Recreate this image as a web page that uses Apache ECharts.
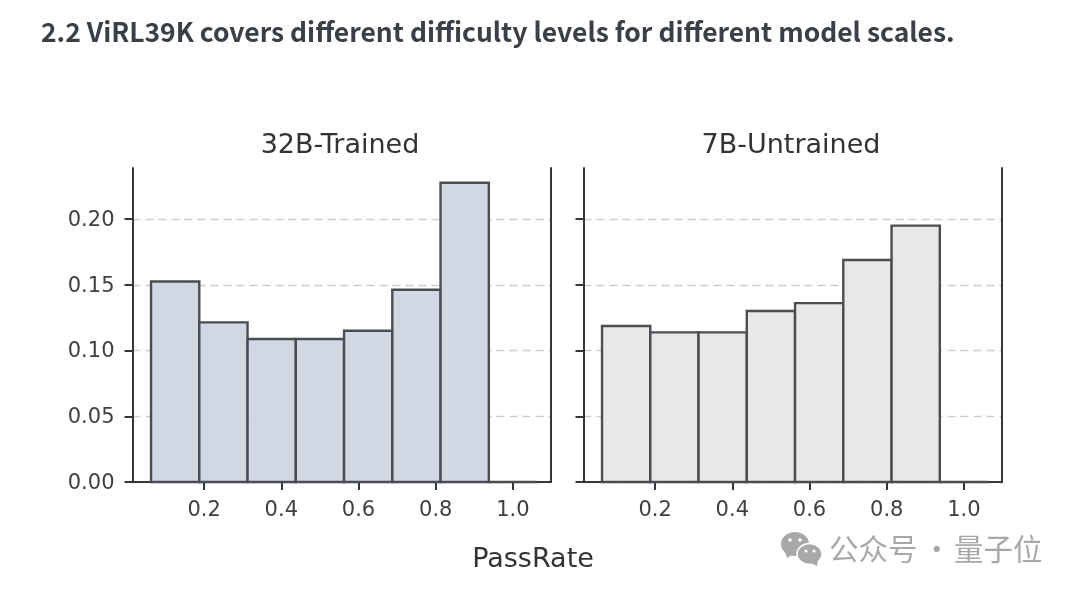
<!DOCTYPE html>
<html>
<head>
<meta charset="utf-8">
<title>ViRL39K</title>
<style>
  html, body { margin: 0; padding: 0; background: #fff; }
  #chart { width: 1080px; height: 593px; }
</style>
<script src="https://cdn.jsdelivr.net/npm/echarts@6/dist/echarts.min.js"></script>
</head>
<body>
<div id="chart"></div>
<script>
const heading = '2.2 ViRL39K covers different difficulty levels for different model scales.';
const panelTitles = ['32B-Trained', '7B-Untrained'];
const xName = 'PassRate';
const watermarkParts = ['公众号', '·', '量子位'];

// histogram bin edges, one more than the values
const binEdges = [0.0625, 0.1875, 0.3125, 0.4375, 0.5625, 0.6875, 0.8125, 0.9375, 1.0625];
const trained32B = [0.1525, 0.1214, 0.1087, 0.1087, 0.115, 0.1462, 0.2276, 0];
const untrained7B = [0.1186, 0.1138, 0.1138, 0.130, 0.136, 0.1688, 0.195, 0];

const xTicks = [0.2, 0.4, 0.6, 0.8, 1.0];
const yTicks = [0, 0.05, 0.10, 0.15, 0.20];

const ink = '#33373a';
const labelColor = '#404040';
const logoGray = '#a8a8a8';
const font = '"DejaVu Sans"';

function binRows(values) {
  return values.map((v, i) => [binEdges[i], binEdges[i + 1], v]);
}

function renderBin(fill) {
  return function (params, api) {
    const bottomLeft = api.coord([api.value(0), 0]);
    const topRight = api.coord([api.value(1), api.value(2)]);
    return {
      type: 'rect',
      shape: {
        x: bottomLeft[0],
        y: topRight[1],
        width: topRight[0] - bottomLeft[0],
        height: bottomLeft[1] - topRight[1]
      },
      style: { fill: fill, stroke: '#4a4e52', lineWidth: 2.4 }
    };
  };
}

function xAxisFor(gridIndex) {
  return {
    type: 'value',
    gridIndex: gridIndex,
    min: 0.0145,
    max: 1.0986,
    axisLine: { show: true, onZero: false, lineStyle: { color: ink, width: 2 } },
    axisTick: { show: true, length: 8, customValues: xTicks, lineStyle: { color: ink, width: 2 } },
    axisLabel: {
      customValues: xTicks,
      formatter: v => v.toFixed(1),
      color: labelColor,
      fontFamily: font,
      fontSize: 21,
      margin: 18
    },
    splitLine: { show: false }
  };
}

function yAxisLeft(gridIndex, withLabels) {
  return {
    type: 'value',
    gridIndex: gridIndex,
    position: 'left',
    min: 0,
    max: 0.2388,
    axisLine: { show: true, onZero: false, lineStyle: { color: ink, width: 2 } },
    axisTick: { show: true, length: 8, customValues: yTicks, lineStyle: { color: ink, width: 2 } },
    axisLabel: {
      show: withLabels,
      customValues: yTicks,
      formatter: v => v.toFixed(2),
      color: labelColor,
      fontFamily: font,
      fontSize: 21,
      margin: 18,
      // nudges the labels down a little from the tick, like the reference
      verticalAlign: 'top',
      lineHeight: 3
    },
    splitLine: { show: true, lineStyle: { color: '#cdcdcd', type: [8, 5], width: 1.3 } }
  };
}

function yAxisRight(gridIndex) {
  return {
    type: 'value',
    gridIndex: gridIndex,
    position: 'right',
    min: 0,
    max: 0.2388,
    axisLine: { show: true, onZero: false, lineStyle: { color: ink, width: 2 } },
    axisTick: { show: false },
    axisLabel: { show: false },
    splitLine: { show: false }
  };
}

function panelTitle(text, x) {
  return {
    text: text,
    left: x,
    top: 127,
    textAlign: 'center',
    textStyle: { color: '#333', fontFamily: font, fontSize: 27, fontWeight: 'normal' }
  };
}

function watermarkTitle(text, x) {
  return {
    text: text,
    left: x,
    top: 529,
    textStyle: { color: logoGray, fontFamily: '"Noto Sans CJK SC"', fontSize: 29.5, fontWeight: 'normal' }
  };
}

const chart = echarts.init(document.getElementById('chart'));
chart.setOption({
  animation: false,
  backgroundColor: '#fff',
  title: [
    {
      text: heading,
      left: 36,
      top: 14,
      textStyle: { color: '#3b4046', fontFamily: '"Noto Sans CJK SC"', fontSize: 26.45, fontWeight: 'bold' }
    },
    panelTitle(panelTitles[0], 335),
    panelTitle(panelTitles[1], 786),
    {
      text: xName,
      left: 528,
      top: 541,
      textAlign: 'center',
      textStyle: { color: '#333', fontFamily: font, fontSize: 27, fontWeight: 'normal' }
    },
    watermarkTitle(watermarkParts[0], 824),
    watermarkTitle(watermarkParts[1], 917),
    watermarkTitle(watermarkParts[2], 949)
  ],
  grid: [
    { left: 132.5, top: 168, width: 418.5, height: 314 },
    { left: 583.5, top: 168, width: 418.5, height: 314 }
  ],
  xAxis: [xAxisFor(0), xAxisFor(1)],
  yAxis: [yAxisLeft(0, true), yAxisRight(0), yAxisLeft(1, false), yAxisRight(1)],
  series: [
    {
      type: 'custom',
      xAxisIndex: 0,
      yAxisIndex: 0,
      data: binRows(trained32B),
      encode: { x: [0, 1], y: 2 },
      renderItem: renderBin('rgba(205,213,226,0.93)')
    },
    {
      type: 'custom',
      xAxisIndex: 1,
      yAxisIndex: 2,
      data: binRows(untrained7B),
      encode: { x: [0, 1], y: 2 },
      renderItem: renderBin('rgba(230,230,230,0.93)')
    }
  ],
  graphic: [
    // WeChat logo of the watermark
    { type: 'ellipse', shape: { cx: 795, cy: 544, rx: 14, ry: 12 }, style: { fill: logoGray } },
    { type: 'polygon', shape: { points: [[785, 551], [792, 555], [787, 558]] }, style: { fill: logoGray } },
    { type: 'ellipse', shape: { cx: 809.5, cy: 554, rx: 12.5, ry: 10.5 }, style: { fill: logoGray, stroke: '#fff', lineWidth: 1.5 } },
    { type: 'polygon', shape: { points: [[811, 563], [818, 560], [817, 566]] }, style: { fill: logoGray } },
    { type: 'circle', shape: { cx: 790, cy: 540, r: 1.8 }, style: { fill: '#fff' } },
    { type: 'circle', shape: { cx: 800, cy: 540, r: 1.8 }, style: { fill: '#fff' } },
    { type: 'circle', shape: { cx: 806, cy: 551, r: 1.6 }, style: { fill: '#fff' } },
    { type: 'circle', shape: { cx: 814, cy: 551, r: 1.6 }, style: { fill: '#fff' } }
  ]
});
</script>
</body>
</html>
